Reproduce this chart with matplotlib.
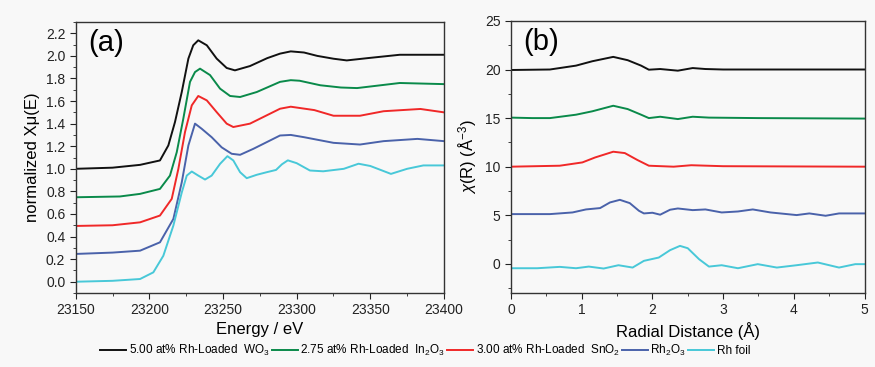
import matplotlib
matplotlib.use("Agg")
import matplotlib.pyplot as plt
from matplotlib.ticker import MultipleLocator

# ---------------- data ----------------
labels = ["5.00 at% Rh-Loaded  WO$_3$", "2.75 at% Rh-Loaded  In$_2$O$_3$",
          "3.00 at% Rh-Loaded  SnO$_2$", "Rh$_2$O$_3$", "Rh foil"]
colors = ["#111111", "#0a8a4a", "#f02828", "#4a62aa", "#48c8d8"]

# Panel (a): XANES
e_wo3 = [23150, 23175, 23193.7, 23207.2, 23212.9, 23217.4, 23222, 23226.5, 23229.8, 23233.2, 23239,
         23245.7, 23252.5, 23258.1, 23268.3, 23280, 23288.7, 23296, 23305, 23314, 23325, 23334, 23348, 23370, 23400]
mu_wo3 = [1.0, 1.01, 1.035, 1.074, 1.207, 1.414, 1.68, 1.976, 2.094, 2.138, 2.094,
          1.976, 1.893, 1.872, 1.91, 1.98, 2.02, 2.04, 2.03, 2.0, 1.975, 1.96, 1.98, 2.01, 2.01]

e_in = [23150, 23180, 23193.7, 23207.2, 23214, 23218.6, 23223, 23227.6, 23231, 23234.4, 23241.2,
        23248, 23254.8, 23261.6, 23272.9, 23288.7, 23296, 23302, 23316, 23330, 23341, 23370, 23400]
mu_in = [0.748, 0.755, 0.778, 0.822, 0.94, 1.147, 1.44, 1.77, 1.857, 1.887, 1.83,
         1.71, 1.645, 1.636, 1.68, 1.77, 1.785, 1.78, 1.74, 1.72, 1.715, 1.76, 1.75]

e_sn = [23150, 23175, 23193.7, 23207.2, 23215.2, 23219.7, 23224.2, 23228.8, 23233.2, 23239, 23245.7,
        23252.5, 23257, 23268.3, 23288.7, 23296, 23312, 23325, 23343, 23359, 23384, 23400]
mu_sn = [0.494, 0.50, 0.526, 0.586, 0.734, 1.0, 1.325, 1.562, 1.645, 1.606, 1.502,
         1.40, 1.37, 1.40, 1.532, 1.55, 1.52, 1.47, 1.47, 1.51, 1.53, 1.50]

e_rh2o3 = [23150, 23175, 23193.7, 23207.2, 23216.3, 23222, 23226.5, 23231, 23235.5, 23242.3, 23249.1,
           23255.9, 23261.6, 23270.6, 23288.7, 23296, 23305, 23325, 23343, 23359, 23382, 23400]
mu_rh2o3 = [0.246, 0.258, 0.275, 0.349, 0.556, 0.88, 1.207, 1.40, 1.355, 1.28, 1.19,
            1.133, 1.124, 1.177, 1.295, 1.30, 1.28, 1.23, 1.215, 1.245, 1.265, 1.245]

e_foil = [23150, 23175, 23193.7, 23202.7, 23209.5, 23216.3, 23222, 23225.4, 23228.8, 23233.2, 23237.8,
          23242.3, 23248, 23253, 23257, 23261.6, 23266.1, 23272.9, 23279.7, 23286, 23290, 23294, 23300,
          23309, 23318, 23332, 23342, 23350, 23364, 23375, 23386, 23400]
mu_foil = [0.0, 0.008, 0.024, 0.083, 0.23, 0.497, 0.79, 0.94, 0.976, 0.94, 0.905,
           0.94, 1.044, 1.112, 1.074, 0.97, 0.917, 0.947, 0.97, 0.99, 1.04, 1.075, 1.05,
           0.985, 0.978, 1.0, 1.045, 1.025, 0.955, 1.0, 1.03, 1.03]

# Panel (b): FT-EXAFS
r_wo3 = [0.0, 0.55, 0.92, 1.15, 1.446, 1.65, 1.84, 1.95, 2.11, 2.36, 2.57, 2.75, 3.0, 4.0, 5.0]
c_wo3 = [19.95, 20.0, 20.4, 20.85, 21.3, 20.96, 20.4, 19.98, 20.05, 19.88, 20.15, 20.05, 20.0, 20.0, 20.0]

r_in = [0.0, 0.3, 0.55, 0.92, 1.15, 1.446, 1.65, 1.84, 1.95, 2.11, 2.36, 2.57, 2.8, 3.5, 5.0]
c_in = [15.05, 15.0, 15.0, 15.35, 15.7, 16.27, 15.93, 15.35, 15.0, 15.14, 14.9, 15.14, 15.05, 15.0, 14.95]

r_sn = [0.0, 0.69, 1.01, 1.19, 1.446, 1.61, 1.79, 1.95, 2.3, 2.55, 3.0, 5.0]
c_sn = [10.0, 10.1, 10.44, 10.95, 11.54, 11.4, 10.68, 10.1, 10.0, 10.15, 10.05, 10.0]

r_rh2o3 = [0.0, 0.55, 0.87, 1.06, 1.26, 1.40, 1.54, 1.68, 1.81, 1.88, 2.0, 2.11, 2.25, 2.36, 2.57,
           2.75, 2.98, 3.21, 3.42, 3.67, 4.04, 4.22, 4.45, 4.64, 5.0]
c_rh2o3 = [5.12, 5.12, 5.29, 5.6, 5.74, 6.32, 6.59, 6.25, 5.46, 5.19, 5.26, 5.06, 5.57, 5.7, 5.53,
           5.6, 5.29, 5.39, 5.6, 5.29, 5.02, 5.19, 4.95, 5.19, 5.19]

r_foil = [0.0, 0.37, 0.69, 0.92, 1.10, 1.31, 1.52, 1.72, 1.88, 2.09, 2.25, 2.39, 2.5, 2.66, 2.8,
          2.98, 3.21, 3.49, 3.76, 4.04, 4.34, 4.64, 4.87, 5.0]
c_foil = [-0.45, -0.45, -0.31, -0.45, -0.28, -0.48, -0.14, -0.38, 0.31, 0.65, 1.41, 1.85, 1.61, 0.48, -0.28,
          -0.14, -0.45, -0.03, -0.38, -0.14, 0.14, -0.38, -0.03, -0.03]

xanes = [(e_wo3, mu_wo3), (e_in, mu_in), (e_sn, mu_sn), (e_rh2o3, mu_rh2o3), (e_foil, mu_foil)]
exafs = [(r_wo3, c_wo3), (r_in, c_in), (r_sn, c_sn), (r_rh2o3, c_rh2o3), (r_foil, c_foil)]

# ---------------- styling ----------------
fam = "Liberation Sans"
plt.rcParams["font.family"] = [fam, "DejaVu Sans"]
plt.rcParams["mathtext.fontset"] = "custom"
plt.rcParams["mathtext.rm"] = fam
plt.rcParams["mathtext.it"] = fam + ":italic"

bg = "#f8f8f8"
fig = plt.figure(figsize=(8.75, 3.67), dpi=100, facecolor=bg)
axa = fig.add_axes([0.0865, 0.2016, 0.4209, 0.7384])
axb = fig.add_axes([0.584, 0.2016, 0.404, 0.7414])

for ax in (axa, axb):
    ax.set_facecolor(bg)
    for s in ax.spines.values():
        s.set_color("#333333")
        s.set_linewidth(1.0)
    ax.tick_params(which="both", direction="out", top=False, right=False,
                   labelsize=10, colors="#222222")
    ax.tick_params(which="major", length=4)
    ax.tick_params(which="minor", length=2.5)

for (x, y), c in zip(xanes, colors):
    axa.plot(x, y, color=c, lw=1.4, solid_joinstyle="round")
axa.set_xlim(23150, 23400)
axa.set_ylim(-0.1, 2.3)
axa.xaxis.set_major_locator(MultipleLocator(50))
axa.xaxis.set_minor_locator(MultipleLocator(25))
axa.yaxis.set_minor_locator(MultipleLocator(0.1))
axa.set_yticks([0.0, 0.2, 0.4, 0.6, 0.8, 1.0, 1.2, 1.4, 1.6, 1.8, 2.0, 2.2])
axa.set_xlabel("Energy / eV", fontsize=12, labelpad=3)
axa.set_ylabel("normalized X\u03bc(E)", fontsize=12, labelpad=4)
axa.text(0.035, 0.975, "(a)", transform=axa.transAxes, fontsize=21, va="top", ha="left")

lines = []
for (x, y), c in zip(exafs, colors):
    ln, = axb.plot(x, y, color=c, lw=1.4, solid_joinstyle="round")
    lines.append(ln)
axb.set_xlim(0, 5)
axb.set_ylim(-3, 25)
axb.xaxis.set_major_locator(MultipleLocator(1))
axb.xaxis.set_minor_locator(MultipleLocator(0.5))
axb.yaxis.set_major_locator(MultipleLocator(5))
axb.yaxis.set_minor_locator(MultipleLocator(2.5))
axb.set_xlabel("Radial Distance (\u00c5)", fontsize=12, labelpad=3)
axb.set_ylabel("$\\chi$(R) (\u00c5$^{-3}$)", fontsize=12, labelpad=4)
axb.text(0.035, 0.975, "(b)", transform=axb.transAxes, fontsize=21, va="top", ha="left")

fig.legend(lines, labels, loc="lower center", bbox_to_anchor=(0.486, -0.005), ncol=5,
           frameon=False, fontsize=8.5, handlelength=2.2, handletextpad=0.2,
           columnspacing=0.2)

fig.savefig("out.png", dpi=100, facecolor=bg)
